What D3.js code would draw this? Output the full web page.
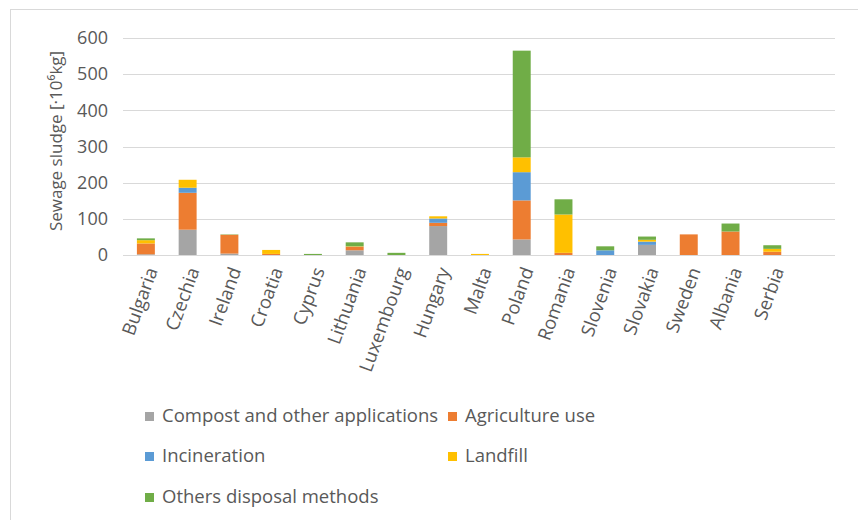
<!DOCTYPE html>
<html>
<head>
<meta charset="utf-8">
<script src="https://cdn.jsdelivr.net/npm/d3@7"></script>
<style>
  body { margin: 0; background: #ffffff; }
  text { font-family: "Open Sans", sans-serif; fill: #595959; }
</style>
</head>
<body>
<div id="chart"></div>
<script>
const width = 858;
const height = 520;

// data (10^6 kg)
const countries = ["Bulgaria", "Czechia", "Ireland", "Croatia", "Cyprus", "Lithuania", "Luxembourg", "Hungary",
  "Malta", "Poland", "Romania", "Slovenia", "Slovakia", "Sweden", "Albania", "Serbia"];
const seriesNames = ["Compost and other applications", "Agriculture use", "Incineration", "Landfill", "Others disposal methods"];
const compost   = [2, 70, 4, 0, 0, 13, 0, 80, 0, 43, 0, 0, 28, 0, 0, 0];
const agri      = [30, 102, 52, 3, 0, 10, 0, 9, 0, 108, 6, 0, 0, 57, 65, 9];
const incin     = [0, 14, 0, 0, 0, 0, 0, 12, 0, 78, 0, 13, 9, 0, 0, 0];
const landfill  = [9, 22, 0, 11, 0, 1, 0, 6, 3, 41, 106, 0, 5, 0, 0, 8];
const others    = [5, 0, 1, 0, 3, 11, 6, 0, 0, 295, 42, 11, 9, 0, 22, 10];
const yTicks = [0, 100, 200, 300, 400, 500, 600];
const colors = ["#A5A5A5", "#ED7D31", "#5B9BD5", "#FFC000", "#70AD47"];

const table = countries.map((c, i) => ({
  country: c,
  [seriesNames[0]]: compost[i],
  [seriesNames[1]]: agri[i],
  [seriesNames[2]]: incin[i],
  [seriesNames[3]]: landfill[i],
  [seriesNames[4]]: others[i]
}));

const svg = d3.select("#chart").append("svg")
  .attr("width", width)
  .attr("height", height);

// chart frame
svg.append("rect")
  .attr("x", 10.5).attr("y", 9.5)
  .attr("width", 900).attr("height", 600)
  .attr("fill", "none")
  .attr("stroke", "#D9D9D9");

const plotLeft = 123, plotRight = 835;
const x = d3.scaleBand()
  .domain(countries)
  .range([125, 125 + countries.length * 41.76])
  .paddingInner(0.57)
  .paddingOuter(0.285);

const y = d3.scaleLinear().domain([0, 600]).range([255, 38]);

// gridlines
svg.append("g").selectAll("line")
  .data(yTicks)
  .join("line")
  .attr("x1", plotLeft).attr("x2", plotRight)
  .attr("y1", d => Math.round(y(d)) + 0.5)
  .attr("y2", d => Math.round(y(d)) + 0.5)
  .attr("stroke", "#D9D9D9")
  .attr("stroke-width", 1);

// y tick labels
svg.append("g").selectAll("text")
  .data(yTicks)
  .join("text")
  .attr("x", 108)
  .attr("y", d => y(d))
  .attr("dy", "0.35em")
  .attr("text-anchor", "end")
  .style("font-size", "18px")
  .text(d => d);

// y title
svg.append("text")
  .attr("transform", "translate(62,141) rotate(-90)")
  .attr("text-anchor", "middle")
  .style("font-size", "17px")
  .text("Sewage sludge [·10⁶kg]");

// stacked bars
const stack = d3.stack().keys(seriesNames);
const layers = stack(table);

svg.append("g").selectAll("g")
  .data(layers)
  .join("g")
  .attr("fill", (d, i) => colors[i])
  .selectAll("rect")
  .data(d => d)
  .join("rect")
  .attr("x", d => x(d.data.country))
  .attr("width", x.bandwidth())
  .attr("y", d => y(d[1]))
  .attr("height", d => y(d[0]) - y(d[1]));

// category labels
svg.append("g").selectAll("text")
  .data(countries)
  .join("text")
  .attr("transform", d => `translate(${x(d) + x.bandwidth() / 2 + 6},268) rotate(-70)`)
  .attr("text-anchor", "end")
  .attr("dy", "0.35em")
  .style("font-size", "18.5px")
  .text(d => d);

// legend
const legendPos = [[145, 416], [448, 416], [145, 456], [448, 456], [145, 497]];
const legend = svg.append("g").selectAll("g")
  .data(seriesNames)
  .join("g")
  .attr("transform", (d, i) => `translate(${legendPos[i][0]},${legendPos[i][1]})`);
legend.append("rect")
  .attr("x", 0).attr("y", -4)
  .attr("width", 9).attr("height", 9)
  .attr("fill", (d, i) => colors[i]);
legend.append("text")
  .attr("x", 17)
  .attr("dy", "0.35em")
  .style("font-size", "18.5px")
  .text(d => d);
</script>
</body>
</html>
